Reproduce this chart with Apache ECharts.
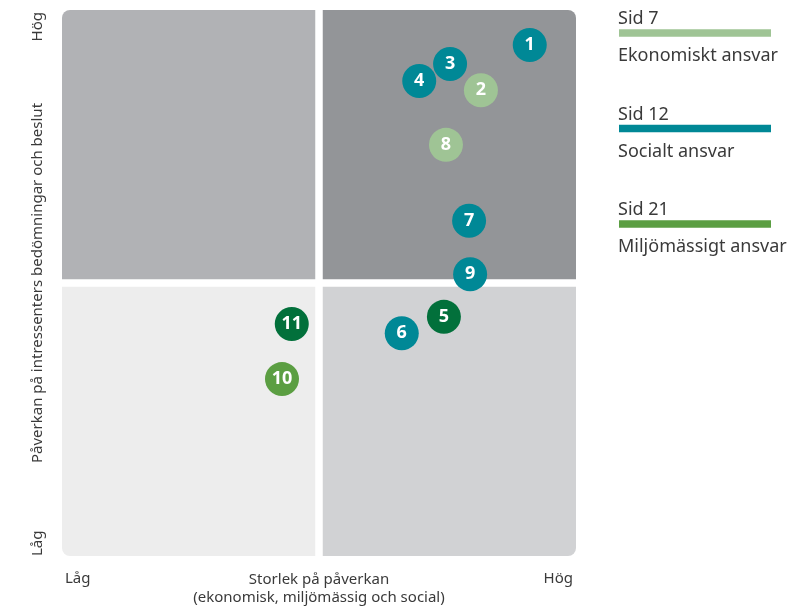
<!DOCTYPE html>
<html>
<head>
<meta charset="utf-8">
<script src="https://cdn.jsdelivr.net/npm/echarts@6/dist/echarts.min.js"></script>
<style>
html,body{margin:0;padding:0;background:#fff;}
#chart{width:800px;height:606px;}
</style>
</head>
<body>
<div id="chart"></div>
<script>
// Quadrants: [xFrom, xTo, yFrom, yTo, colour]
const quadrantX0 = [0, 50, 0, 50];
const quadrantX1 = [50, 100, 50, 100];
const quadrantY0 = [50, 50, 0, 0];
const quadrantY1 = [100, 100, 50, 50];
const quadrantColors = ['#b1b2b5', '#939598', '#ededed', '#d1d2d4'];

// Points
const pointIds = ['4', '3', '1', '2', '8', '7', '9', '5', '6', '11', '10'];
const pointX   = [69.5, 75.5, 91.0, 81.5, 74.7, 79.2, 79.4, 74.3, 66.1, 44.7, 42.8];
const pointY   = [87.0, 90.1, 93.6, 85.3, 75.3, 61.4, 51.6, 43.8, 40.8, 42.5, 32.4];
const pointCat = [1, 1, 1, 0, 0, 1, 1, 3, 1, 3, 2];

// Categories / legend
const catPages  = ['Sid 7', 'Sid 12', 'Sid 21', ''];
const catNames  = ['Ekonomiskt ansvar', 'Socialt ansvar', 'Miljömässigt ansvar', 'Övrigt'];
const catColors = ['#9fc495', '#008896', '#5b9e42', '#02703b'];

// Axis texts
const xTicks = ['Låg', 'Hög'];
const yTicks = ['Låg', 'Hög'];
const xTitle = 'Storlek på påverkan\n(ekonomisk, miljömässig och social)';
const yTitle = 'Påverkan på intressenters bedömningar och beslut';

const FONT = '"Noto Sans", Lato, sans-serif';
const TXT = '#3a3a3a';

const chart = echarts.init(document.getElementById('chart'));
const quadData = quadrantX0.map((v, i) => [v, quadrantX1[i], quadrantY0[i], quadrantY1[i], i]);
const GAP = 3.75, R = 8;
const radii = [[R,0,0,0],[0,R,0,0],[0,0,0,R],[0,0,R,0]];

const series = [{
  type: 'custom',
  silent: true,
  z: 1,
  data: quadData,
  renderItem: function (params, api) {
    const x0 = api.value(0), x1 = api.value(1), y0 = api.value(2), y1 = api.value(3), idx = api.value(4);
    const tl = api.coord([x0, y1]);
    const br = api.coord([x1, y0]);
    let left = tl[0], right = br[0], top = tl[1], bottom = br[1];
    if (x0 === 50) left += GAP;
    if (x1 === 50) right -= GAP;
    if (y1 === 50) top += GAP;
    if (y0 === 50) bottom -= GAP;
    return {
      type: 'rect',
      shape: { x: left, y: top, width: right - left, height: bottom - top, r: radii[idx] },
      style: { fill: quadrantColors[idx] }
    };
  }
}];

series.push({
  type: 'scatter',
  z: 5,
  symbolSize: 34,
  data: pointIds.map((id, i) => ({
    value: [pointX[i], pointY[i]],
    name: id,
    itemStyle: { color: catColors[pointCat[i]], opacity: 1 }
  })),
  itemStyle: { opacity: 1 },
  label: {
    show: true,
    position: 'inside',
    formatter: p => p.name,
    color: '#fff',
    fontSize: 18,
    fontWeight: 'bold',
    fontFamily: FONT
  },
  emphasis: { disabled: true }
});

const graphics = [];
// Legend
const legLine = [29.3, 124.8, 220.3];
for (let i = 0; i < 3; i++) {
  graphics.push({ type: 'text', left: 618, top: legLine[i] - 19, style: { text: catPages[i], fill: TXT, font: '18px ' + FONT } });
  graphics.push({ type: 'rect', left: 619, top: legLine[i], shape: { width: 152, height: 7.5 }, style: { fill: catColors[i] } });
  graphics.push({ type: 'text', left: 618, top: legLine[i] + 18, style: { text: catNames[i], fill: TXT, font: '18px ' + FONT } });
}
// X axis texts
graphics.push({ type: 'text', left: 65, top: 571, style: { text: xTicks[0], fill: TXT, font: '15px ' + FONT } });
graphics.push({ type: 'text', right: 227, top: 571, style: { text: xTicks[1], fill: TXT, font: '15px ' + FONT } });
graphics.push({ type: 'text', x: 319, y: 571, style: { text: xTitle, fill: TXT, font: '15px ' + FONT, textAlign: 'center', lineHeight: 18 } });
// Y axis texts (rotated)
graphics.push({ type: 'text', x: 30, y: 556, rotation: Math.PI / 2, style: { text: yTicks[0], fill: TXT, font: '15px ' + FONT, textAlign: 'left' } });
graphics.push({ type: 'text', x: 30, y: 12, rotation: Math.PI / 2, style: { text: yTicks[1], fill: TXT, font: '15px ' + FONT, textAlign: 'right' } });
graphics.push({ type: 'text', x: 30, y: 283, rotation: Math.PI / 2, style: { text: yTitle, fill: TXT, font: '15px ' + FONT, textAlign: 'center' } });

chart.setOption({
  animation: false,
  grid: { left: 62, right: 224, top: 10, bottom: 50 },
  xAxis: { type: 'value', min: 0, max: 100, show: false },
  yAxis: { type: 'value', min: 0, max: 100, show: false },
  series: series,
  graphic: graphics
});
</script>
</body>
</html>
